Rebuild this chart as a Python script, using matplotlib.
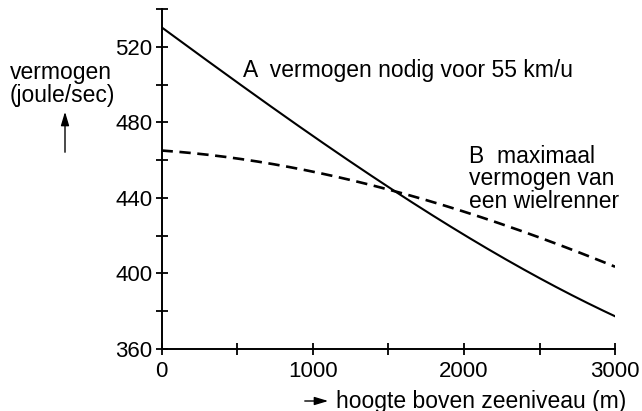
import numpy as np
import matplotlib.pyplot as plt
from matplotlib.ticker import MultipleLocator

# values
hoogte = [0, 500, 1000, 1500, 2000, 2500, 3000]
vermogen_a = [530, 502, 473, 444.5, 421, 398, 377]
vermogen_b = [465, 461, 454, 444, 433, 419, 403.5]

x_ticks = [0, 1000, 2000, 3000]
y_ticks = [360, 400, 440, 480, 520]

plt.rcParams.update({
    'font.family': ['Liberation Sans', 'DejaVu Sans'],
    'font.size': 16.5,
})

fig = plt.figure(figsize=(6.42, 4.11), dpi=100)
ax = fig.add_axes([0.2516, 0.151, 0.7065, 0.827])

# smooth the readings with a cubic fit
xs = np.linspace(0, 3000, 200)
ya = np.polyval(np.polyfit(hoogte, vermogen_a, 3), xs)
yb = np.polyval(np.polyfit(hoogte, vermogen_b, 3), xs)

ax.plot(xs, ya, color='black', lw=1.5)
ax.plot(xs, yb, color='black', lw=1.9, linestyle=(0, (4.3, 2.5)))

ax.set_xlim(0, 3000)
ax.set_ylim(360, 540)
for s in ['top', 'right']:
    ax.spines[s].set_visible(False)
for s in ['left', 'bottom']:
    ax.spines[s].set_linewidth(1.4)

ax.set_xticks(x_ticks)
ax.set_yticks(y_ticks)
ax.xaxis.set_minor_locator(MultipleLocator(500))
ax.yaxis.set_minor_locator(MultipleLocator(20))
ax.tick_params(which='both', direction='inout', length=8, width=1.3, colors='black')
ax.tick_params(axis='x', pad=4.5, labelsize=16)
ax.tick_params(axis='y', pad=2.5, labelsize=16)
ax.set_ylim(360, 540)

ax.text(0.18, 0.82, 'A  vermogen nodig voor 55 km/u', transform=ax.transAxes,
        va='center', ha='left')
ax.text(0.677, 0.50, 'B  maximaal\nvermogen van\neen wielrenner', transform=ax.transAxes,
        va='center', ha='left', linespacing=0.98)

fig.text(10 / 642, 1 - 84 / 411, 'vermogen\n(joule/sec)', ha='left', va='center',
         linespacing=1.0)
arrow = dict(arrowstyle='-|>,head_length=0.5,head_width=0.15', color='black', lw=1.0)
ax.annotate('', xy=(65 / 642, 1 - 109 / 411), xytext=(65 / 642, 1 - 155 / 411),
            xycoords='figure fraction', textcoords='figure fraction', arrowprops=arrow)
ax.annotate('', xy=(331 / 642, 1 - 401 / 411), xytext=(302 / 642, 1 - 401 / 411),
            xycoords='figure fraction', textcoords='figure fraction', arrowprops=arrow)
fig.text(336 / 642, 1 - 401 / 411, 'hoogte boven zeeniveau (m)', ha='left', va='center')

fig.savefig('out.png', dpi=100)
